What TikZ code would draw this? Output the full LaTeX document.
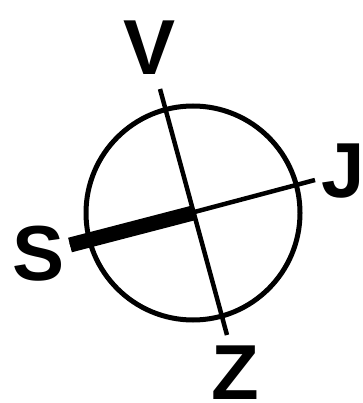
\documentclass[tikz,border=0pt]{standalone}
\usepackage{fontspec}
\setmainfont{Liberation Sans}
\usepackage{tikz}
\usetikzlibrary{positioning}

\begin{document}
\begin{tikzpicture}[x=1pt,y=-1pt,font=\fontsize{78}{80}\selectfont\bfseries,
        lab/.style={inner sep=0pt, outer sep=0pt},
        axis/.style={line width=4.5pt}]
    \useasboundingbox (0,0) rectangle (362,403);
    \node[draw, circle, line width=5pt, minimum size=214pt, inner sep=0pt] (dial) at (193,213) {};
    \coordinate (vtop) at (160,89);
    \coordinate (zbot) at (227,335);
    \coordinate (send) at (70,245);
    \coordinate (jend) at (315,180);
    \draw[axis] (vtop) -- (zbot);
    \draw[axis] (send) -- (jend);
    \draw[line width=15pt] (send) -- (dial.center);
    \foreach \name/\px/\py in {V/150/48,S/39/253.5,J/343/171.5,Z/235.5/372.5} {
            \node[lab] (lbl\name) at (\px,\py) {\name};
        }
\end{tikzpicture}
\end{document}
